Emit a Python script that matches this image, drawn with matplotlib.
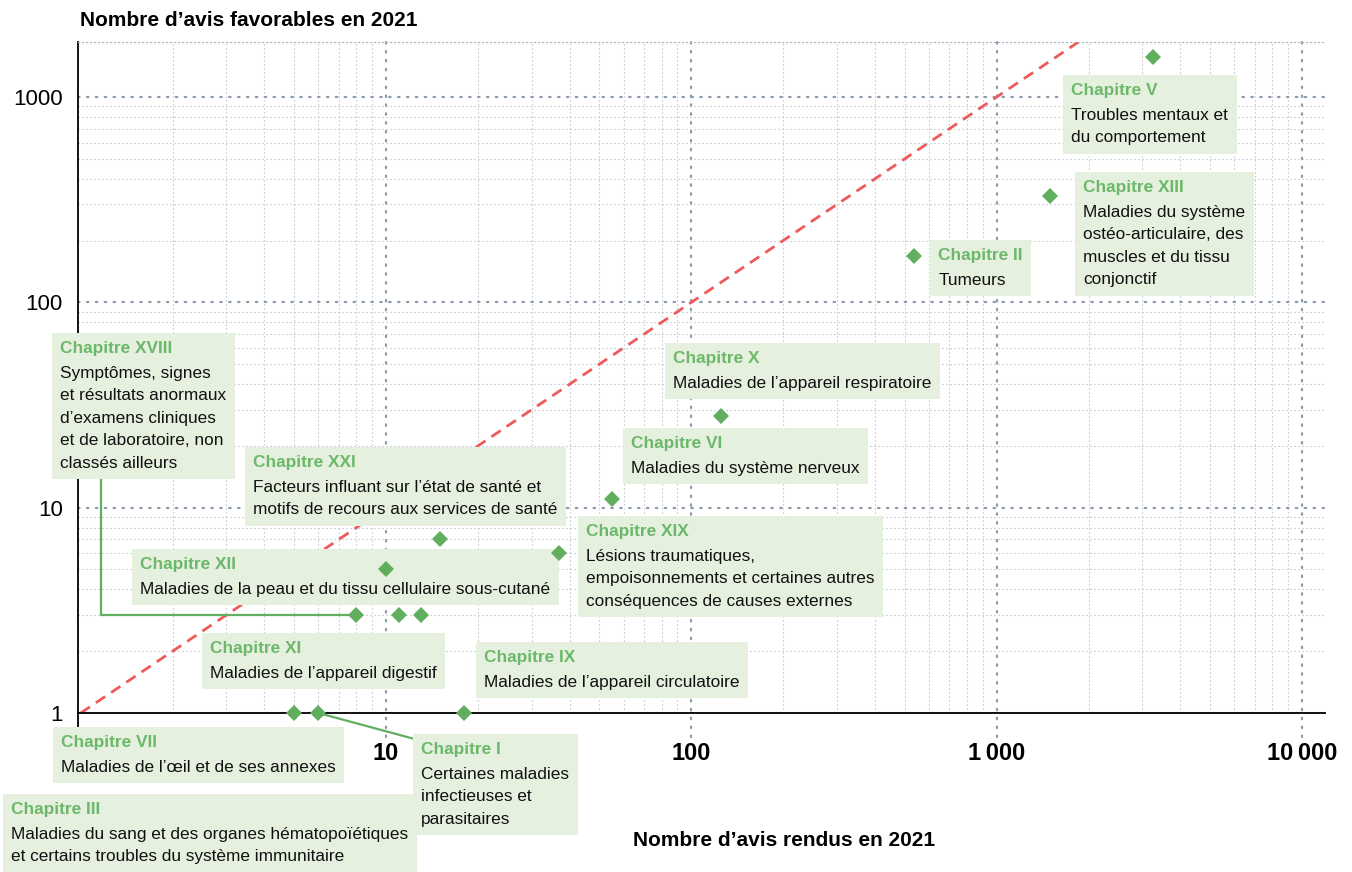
import matplotlib
matplotlib.use('Agg')
import matplotlib.pyplot as plt
from matplotlib import font_manager
from matplotlib.offsetbox import TextArea, VPacker, PaddedBox, AnnotationBbox
from matplotlib.ticker import FixedLocator, LogLocator, NullFormatter

names = {f.name for f in font_manager.fontManager.ttflist}
if 'Liberation Sans Narrow' in names:
    FONT = ['Liberation Sans Narrow', 'DejaVu Sans']
    K = 1.08
else:
    FONT = ['Liberation Sans', 'DejaVu Sans']
    K = 1.0
plt.rcParams['font.family'] = FONT

# ---------------- data ----------------
chapitres = ['V', 'XIII', 'II', 'X', 'VI', 'XIX', 'XXI', 'XII', 'XVIII',
             'XI', 'III', 'VII', 'I', 'IX']
avis_rendus = [3260, 1500, 535, 125, 55, 37, 15, 10, 8, 11, 13, 5, 6, 18]
avis_favorables = [1570, 330, 168, 28, 11, 6, 7, 5, 3, 3, 3, 1, 1, 1]
descriptions = [
    "Troubles mentaux et\ndu comportement",
    "Maladies du système\nostéo-articulaire, des\nmuscles et du tissu\nconjonctif",
    "Tumeurs",
    "Maladies de l’appareil respiratoire",
    "Maladies du système nerveux",
    "Lésions traumatiques,\nempoisonnements et certaines autres\nconséquences de causes externes",
    "Facteurs influant sur l’état de santé et\nmotifs de recours aux services de santé",
    "Maladies de la peau et du tissu cellulaire sous-cutané",
    "Symptômes, signes\net résultats anormaux\nd’examens cliniques\net de laboratoire, non\nclassés ailleurs",
    "Maladies de l’appareil digestif",
    "Maladies du sang et des organes hématopoïétiques\net certains troubles du système immunitaire",
    "Maladies de l’œil et de ses annexes",
    "Certaines maladies\ninfectieuses et\nparasitaires",
    "Maladies de l’appareil circulatoire",
]
x_ticks = [10, 100, 1000, 10000]
x_ticklabels = ['10', '100', '1\u202f000', '10\u202f000']
y_ticks = [1, 10, 100, 1000]
y_ticklabels = ['1', '10', '100', '1000']

# ---------------- layout (label box top-left, figure pixels from top) ----------------
W, H = 1352, 872
box_pos = {
    'V': (1063, 75), 'XIII': (1075, 172), 'II': (930, 240), 'X': (665, 343),
    'VI': (623, 428), 'XIX': (578, 516), 'XXI': (245, 447), 'XII': (132, 549),
    'XVIII': (52, 333), 'XI': (202, 633), 'IX': (476, 642), 'VII': (53, 727),
    'III': (3, 794), 'I': (413, 734),
}
connectors = {
    'XVIII': dict(relpos=(0.27, 0.0), connectionstyle='angle,angleA=90,angleB=0,rad=0'),
    'I': dict(relpos=(0.0, 0.955), connectionstyle='arc3,rad=0'),
}

GREEN_T = '#6cb86a'
GREEN_M = '#62ae5f'
BG = '#e6f0df'
RED = '#ee5a5a'
GRID_MAJ = '#8d9cad'
GRID_MIN = '#aab5c0'

fig = plt.figure(figsize=(W / 100, H / 100), dpi=100)
ax = fig.add_axes([78 / W, (H - 713) / H, (1325 - 78) / W, (713 - 42) / H])
ax.set_xscale('log')
ax.set_yscale('log')
ax.set_xlim(0.98, 11900)
ax.set_ylim(1, 1853)

# grids
ax.xaxis.set_major_locator(FixedLocator(x_ticks))
ax.yaxis.set_major_locator(FixedLocator(y_ticks))
ax.xaxis.set_minor_locator(LogLocator(base=10, subs=range(2, 10), numticks=20))
ax.yaxis.set_minor_locator(LogLocator(base=10, subs=range(2, 10), numticks=20))
ax.xaxis.set_minor_formatter(NullFormatter())
ax.yaxis.set_minor_formatter(NullFormatter())
ax.grid(which='minor', axis='both', color=GRID_MIN, linestyle=(0, (1, 2.6)), linewidth=0.8, zorder=0)
ax.grid(which='major', axis='y', color=GRID_MAJ, linestyle=(0, (0.7, 3.3)), linewidth=1.6,
        dash_capstyle='round', zorder=0)
for xv in x_ticks:
    ax.axvline(xv, ymin=-0.036, ymax=1, color=GRID_MAJ, linestyle=(0, (0.7, 3.3)), linewidth=1.6,
               dash_capstyle='round', clip_on=False, zorder=0)
ax.set_axisbelow(True)

ax.set_xticks(x_ticks)
ax.set_xticklabels(x_ticklabels, fontsize=17 * K, fontweight='bold')
ax.set_yticks(y_ticks)
ax.set_yticklabels(y_ticklabels, fontsize=16 * K)
ax.tick_params(which='both', length=0)
ax.tick_params(axis='x', pad=21)
ax.tick_params(axis='y', pad=11)

ax.spines['right'].set_visible(False)
ax.spines['top'].set_color(GRID_MIN)
ax.spines['top'].set_linestyle((0, (1, 2.6)))
ax.spines['top'].set_linewidth(0.8)
ax.spines['left'].set_linewidth(1.3)
ax.spines['bottom'].set_linewidth(1.3)
ax.spines['left'].set_bounds(10 ** (-14 / 205.5), 1853)

# y = x reference
ax.axline((1, 1), (10, 10), color=RED, linestyle=(0, (4, 2.6)), linewidth=2.0, zorder=2)

# points
ax.plot(avis_rendus, avis_favorables, linestyle='none', marker='D', markersize=8,
        color=GREEN_M, markeredgewidth=0, zorder=6, clip_on=False)

# labels
FS = 12.4 * K
for ch, xr, yf, desc in zip(chapitres, avis_rendus, avis_favorables, descriptions):
    t1 = TextArea('Chapitre ' + ch, textprops=dict(color=GREEN_T, fontweight='bold',
                                                    fontsize=FS, family=FONT))
    t2 = TextArea(desc, textprops=dict(color='#111111', fontsize=FS, family=FONT,
                                       linespacing=1.62))
    pack = VPacker(children=[t1, t2], align='left', pad=0, sep=7)
    pb = PaddedBox(pack, pad=6, draw_frame=False)
    px, py = box_pos[ch]
    arrowprops = None
    if ch in connectors:
        arrowprops = dict(arrowstyle='-', color=GREEN_M, lw=1.6, shrinkA=0, shrinkB=0,
                          **connectors[ch])
    ab = AnnotationBbox(pb, (xr, yf), xycoords='data', xybox=(px, H - py),
                        boxcoords='figure pixels', box_alignment=(0, 1), pad=0,
                        frameon=True, bboxprops=dict(facecolor=BG, edgecolor='none'),
                        arrowprops=arrowprops, annotation_clip=False, zorder=4)
    ax.add_artist(ab)

fig.text(80 / W, 1 - 20 / H, 'Nombre d’avis favorables en 2021', fontsize=15 * K,
         fontweight='bold', ha='left', va='center')
fig.text(784 / W, 1 - 840 / H, 'Nombre d’avis rendus en 2021', fontsize=15 * K,
         fontweight='bold', ha='center', va='center')

fig.savefig('out.png', dpi=100)
